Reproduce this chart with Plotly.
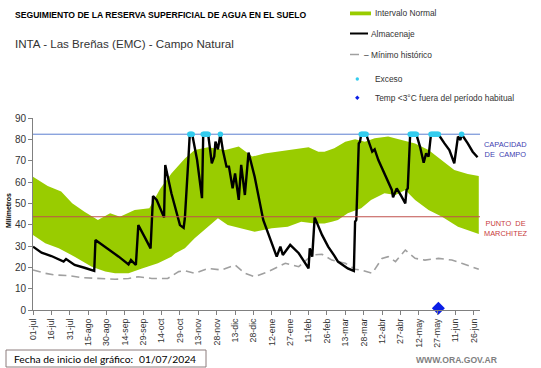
import plotly.graph_objects as go

# ---------------- DATA ----------------
tick_days = [0, 15, 30, 45, 60, 75, 90, 105, 120, 135, 150, 165, 180, 195, 210,
             225, 240, 255, 270, 285, 300, 315, 330, 345, 360]
tick_labels = ["01-jul", "16-jul", "31-jul", "15-ago", "30-ago", "14-sep", "29-sep",
               "14-oct", "29-oct", "13-nov", "28-nov", "13-dic", "28-dic", "12-ene",
               "27-ene", "11-feb", "26-feb", "13-mar", "28-mar", "12-abr", "27-abr",
               "12-may", "27-may", "11-jun", "26-jun"]

# Normal interval (upper and lower bound), days since 01-jul-2024
upper_days = [0, 12, 23, 32, 42, 53, 63, 71, 83, 95, 104, 113, 124, 132, 143, 157,
              168, 179, 189, 198, 211, 225, 233, 238, 246, 255, 263, 271, 279, 290,
              301, 312, 323, 334, 344, 355, 364]
upper_vals = [62.5, 58.1, 55.5, 50, 46, 42.2, 45.3, 43.7, 46.9, 47.7, 57, 64, 71, 75,
              76.3, 75, 76.6, 71.9, 73.4, 74.2, 75.3, 76.3, 74.2, 74.2, 75.8, 78.9, 80,
              78.9, 80.5, 81.3, 79.7, 78.1, 75, 70.3, 65.6, 63.8, 62.8]
lower_days = [0, 10, 21, 34, 48, 59, 67, 78, 89, 102, 113, 116, 124, 132, 143, 151,
              159, 170, 181, 195, 208, 219, 230, 238, 244, 249, 257, 268, 276, 287,
              296, 304, 312, 323, 334, 347, 358, 364]
lower_vals = [35.2, 31.3, 28.9, 25, 20.3, 18, 17.2, 17.2, 19.5, 21.9, 25, 26.5, 29,
              33.6, 39, 43, 39.8, 38.3, 36.7, 38.3, 39, 41.4, 40.6, 40.6, 41.4, 42.2,
              45.3, 47.7, 51.6, 54.7, 53.9, 56.3, 51.6, 46.9, 43.7, 39, 36.7, 35.6]

# Historical minimum
min_days = [0, 10, 18, 29, 40, 53, 67, 78, 86, 97, 110, 119, 124, 132, 143, 154, 165,
            173, 181, 192, 200, 206, 217, 228, 236, 244, 255, 263, 268, 277, 285, 290,
            296, 304, 312, 320, 331, 342, 350, 364]
min_vals = [18.75, 17.2, 16.4, 16.1, 15.2, 14.8, 14.4, 14.8, 15.6, 14.8, 14.8, 18, 18.4,
            17.2, 19.5, 18.75, 21.1, 17.2, 15.6, 18, 20.3, 21.9, 20.3, 25.8, 26.1, 23.4,
            21.9, 19.1, 18.75, 17.2, 24.2, 25, 22.7, 28.1, 24.2, 23.4, 24.2, 23.4, 21.9,
            19.1]

# Storage (Almacenaje)
alm_days = [0, 7, 15, 25, 27, 30, 34, 42, 50, 51, 61, 70, 78, 80, 84, 86, 91, 96, 98,
            101, 107, 108, 113, 120, 123, 124, 127, 128, 130, 134, 138, 139, 143, 146,
            148, 149, 151, 153, 155, 158, 160, 163, 165, 168, 170, 173, 176, 181, 188,
            195, 199, 202, 204, 210, 217, 225, 226, 228, 230, 236, 241, 246, 249, 257,
            262, 263, 264, 266, 267, 268, 272, 277, 279, 282, 287, 293, 294, 297, 301,
            304, 305, 306, 308, 313, 316, 319, 321, 323, 325, 331, 336, 340, 344, 347,
            349, 350, 355, 359, 363]
alm_vals = [29.7, 26.9, 25.3, 22.7, 23.9, 22.7, 21.1, 19.8, 18.3, 32.8, 28.9, 25, 21.4,
            23.4, 21.1, 39.8, 34.4, 28.9, 53.4, 51.6, 43.4, 68, 54.7, 39.8, 38.5, 43,
            71.9, 82.4, 82.4, 70.3, 52.4, 82.4, 82.4, 68.8, 71.9, 78.9, 75.3, 82.4, 75,
            67.2, 67.2, 57, 64, 51.6, 68, 53.9, 73.8, 62.5, 42.2, 31.3, 25, 29.7, 25.8,
            30.5, 26.6, 19.5, 28.9, 25, 43.4, 35.2, 29.7, 25.5, 22.7, 19.5, 18.3, 41.4,
            42.2, 78.1, 78.9, 82.4, 82.4, 74.2, 75.3, 70.3, 64, 56.3, 52.8, 57, 53.1, 50,
            56.3, 57, 82.4, 82.4, 76.6, 69, 73.4, 71.9, 82.4, 82.4, 78.1, 75, 68.8, 81.3,
            79.7, 82.4, 78.1, 74.2, 71.6]

# Excess (days at field capacity)
exc_days = [128, 129, 130, 139, 140, 141, 142, 143, 153, 268, 269, 270, 271, 272,
            308, 309, 310, 311, 312, 313, 325, 326, 327, 328, 329, 330, 331, 350]
capacidad_campo = 82.4
punto_marchitez = 43.7

# Temp <3 °C outside usual period
temp_days = [331]
temp_vals = [0.8]

# ---------------- FIGURE ----------------
W, H = 541, 368
L, R, T, B = 33, 480, 118, 310
FONT = "Liberation Sans, Arial, sans-serif"

def px(xp):
    return (xp - L) / (R - L)

def py(yp):
    return (B - yp) / (B - T)

exc_vals = [capacidad_campo] * len(exc_days)

fig = go.Figure()
fig.add_trace(go.Scatter(
    x=upper_days + lower_days[::-1], y=upper_vals + lower_vals[::-1],
    fill="toself", fillcolor="#99CC00", mode="lines", line=dict(width=0),
    hoverinfo="skip", name="Intervalo Normal"))
fig.add_trace(go.Scatter(
    x=min_days, y=min_vals, mode="lines",
    line=dict(color="#A0A0A0", width=1.6, dash="8px,5px"), name="Mínimo histórico"))
fig.add_trace(go.Scatter(
    x=alm_days, y=alm_vals, mode="lines",
    line=dict(color="#000000", width=2.4), name="Almacenaje"))
fig.add_trace(go.Scatter(
    x=exc_days, y=exc_vals, mode="markers",
    marker=dict(color="#33CCEE", size=5.5, symbol="circle"), name="Exceso"))
fig.add_trace(go.Scatter(
    x=temp_days, y=temp_vals, mode="markers", cliponaxis=False,
    marker=dict(color="#0A1EE6", size=10, symbol="diamond"), name="Temp"))

shapes = [
    dict(type="line", xref="x", yref="y", x0=0, x1=365, y0=capacidad_campo,
         y1=capacidad_campo, line=dict(color="#5B7FD0", width=1), layer="below"),
    dict(type="line", xref="x", yref="y", x0=0, x1=365, y0=punto_marchitez,
         y1=punto_marchitez, line=dict(color="#C0504D", width=1.2)),
    # legend glyphs
    dict(type="rect", xref="paper", yref="paper", x0=px(350), x1=px(371),
         y0=py(15.3), y1=py(11.5), fillcolor="#99CC00", line=dict(width=0)),
    dict(type="line", xref="paper", yref="paper", x0=px(350), x1=px(368),
         y0=py(33.5), y1=py(33.5), line=dict(color="#000000", width=2)),
    dict(type="line", xref="paper", yref="paper", x0=px(350), x1=px(359),
         y0=py(54.5), y1=py(54.5), line=dict(color="#A0A0A0", width=1.5)),
    dict(type="circle", xref="paper", yref="paper", x0=px(355.6), x1=px(359),
         y0=py(80.7), y1=py(77.3), fillcolor="#33CCEE", line=dict(width=0)),
    dict(type="path", xref="paper", yref="paper",
         path="M {a},{b} L {c},{d} L {a},{e} L {f},{d} Z".format(
             a=px(357.3), b=py(95.5), c=px(359.5), d=py(97.7), e=py(99.9), f=px(355.1)),
         fillcolor="#0A1EE6", line=dict(width=0)),
    # bottom box
    dict(type="rect", xref="paper", yref="paper", x0=px(6), x1=px(206),
         y0=py(367), y1=py(350), line=dict(color="#8C7C7C", width=1),
         fillcolor="rgba(0,0,0,0)"),
]

ann = []
def txt(x, y, s, size, color="#000000", bold=False, anchor="left", family=FONT, angle=0):
    ann.append(dict(x=px(x), y=py(y), xref="paper", yref="paper", text=s,
                    showarrow=False, xanchor=anchor, yanchor="middle", textangle=angle,
                    font=dict(family=family, size=size, color=color,
                              weight="bold" if bold else "normal")))

txt(12.7, 15.5, "SEGUIMIENTO DE LA RESERVA SUPERFICIAL DE AGUA EN EL SUELO", 8.6, bold=True)
txt(12.7, 44, "INTA - Las Breñas (EMC) - Campo Natural", 11.6, color="#333333")
txt(372.5, 13, "Intervalo Normal", 8.4, color="#333333")
txt(369, 34, "Almacenaje", 8.4, color="#333333")
txt(361.5, 55, "– Mínimo histórico", 8.4, color="#333333")
txt(373, 79, "Exceso", 8.4, color="#333333")
txt(373, 98, "Temp <3°C fuera del período habitual", 8.4, color="#333333")
txt(481.5, 149.5, "CAPACIDAD<br>DE  CAMPO", 7.4, color="#4040B0")
txt(481.5, 228, "PUNTO  DE<br>MARCHITEZ", 7.4, color="#C83C3C")
txt(8, 211, "Milímetros", 7, bold=True, anchor="center", angle=-90)
txt(11.5, 358.5, "Fecha de inicio del gráfico:", 10.3, family="Lato, sans-serif")
txt(136.5, 358.5, "01/07/2024", 10.3, family="Lato, sans-serif")
txt(500, 360, "WWW.ORA.GOV.AR", 8.6, color="#7F7F7F", bold=True, anchor="right")

fig.update_layout(
    width=W, height=H, autosize=False,
    margin=dict(l=L, r=W - R, t=T, b=H - B, pad=0),
    paper_bgcolor="white", plot_bgcolor="white",
    showlegend=False, shapes=shapes, annotations=ann,
    font=dict(family=FONT, color="#333333"),
)
fig.update_xaxes(
    range=[0, 365], tickmode="array", tickvals=tick_days, ticktext=tick_labels,
    tickangle=-90, tickfont=dict(size=8.8, color="#333333"),
    showgrid=False, zeroline=False, showline=True, linecolor="#808080", linewidth=1,
    ticks="outside", ticklen=4, tickcolor="#808080")
fig.update_yaxes(
    range=[0, 90], tickmode="array", tickvals=list(range(0, 91, 10)),
    tickfont=dict(size=10, color="#333333"),
    showgrid=False, zeroline=False, showline=True, linecolor="#808080", linewidth=1,
    ticks="outside", ticklen=4, tickcolor="#808080")

fig.write_html("out.html", config={"displayModeBar": False},
               post_script="document.body.style.margin='0';document.body.style.overflow='hidden';")
